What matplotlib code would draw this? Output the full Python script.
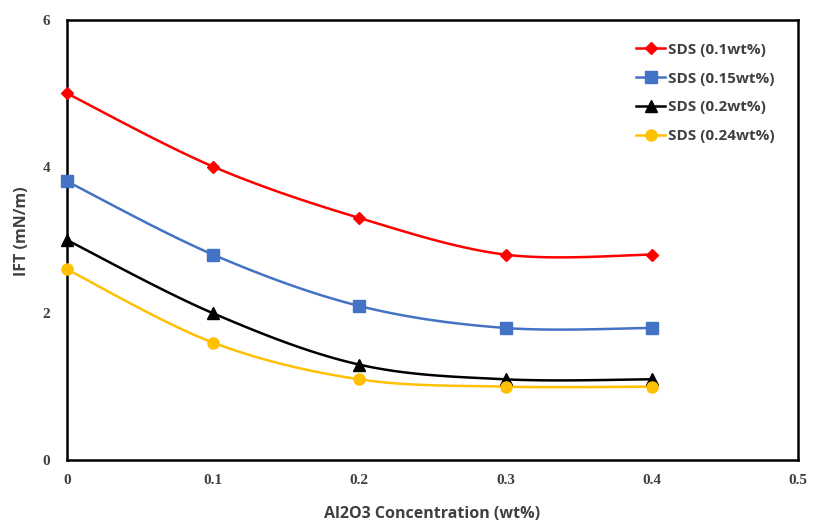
import matplotlib
matplotlib.use("Agg")
import matplotlib.pyplot as plt
import numpy as np

conc = [0.0, 0.1, 0.2, 0.3, 0.4]
ift_01 = [5.0, 4.0, 3.3, 2.8, 2.8]
ift_015 = [3.8, 2.8, 2.1, 1.8, 1.8]
ift_02 = [3.0, 2.0, 1.3, 1.1, 1.1]
ift_024 = [2.6, 1.6, 1.1, 1.0, 1.0]

series = [
    ("SDS (0.1wt%)", ift_01, "#FF0000", "D", 6),
    ("SDS (0.15wt%)", ift_015, "#4472C4", "s", 8),
    ("SDS (0.2wt%)", ift_02, "#000000", "^", 8),
    ("SDS (0.24wt%)", ift_024, "#FFC000", "o", 8),
]


def smooth(x, y, n=30):
    # Catmull-Rom through the points, like Excel's smoothed line
    p = np.column_stack([x, y])
    p = np.vstack([p[0], p, p[-1]])
    out = []
    for i in range(1, len(p) - 2):
        p0, p1, p2, p3 = p[i - 1], p[i], p[i + 1], p[i + 2]
        t = np.linspace(0, 1, n)[:, None]
        c = 0.5 * ((2 * p1) + (-p0 + p2) * t
                   + (2 * p0 - 5 * p1 + 4 * p2 - p3) * t ** 2
                   + (-p0 + 3 * p1 - 3 * p2 + p3) * t ** 3)
        out.append(c)
    c = np.vstack(out)
    return c[:, 0], c[:, 1]


fig = plt.figure(figsize=(8.16, 5.23), dpi=100)
ax = fig.add_axes([0.082, 0.1205, 0.896, 0.8413])

for label, vals, color, mk, ms in series:
    sx, sy = smooth(conc, vals)
    ax.plot(sx, sy, color=color, lw=1.8, zorder=2)
    ax.plot(conc, vals, ls="none", marker=mk, color=color, ms=ms, zorder=3, clip_on=False)
    ax.plot([], [], color=color, lw=1.8, marker=mk, ms=ms, label=label)

ax.set_xlim(0, 0.5)
ax.set_ylim(0, 6)
ax.set_xticks([0, 0.1, 0.2, 0.3, 0.4, 0.5])
ax.set_xticklabels(["0", "0.1", "0.2", "0.3", "0.4", "0.5"])
ax.set_yticks([0, 2, 4, 6])
ax.tick_params(length=0)
ax.tick_params(axis="x", pad=10)
ax.tick_params(axis="y", pad=12)
for t in ax.get_xticklabels() + ax.get_yticklabels():
    t.set_fontfamily("Liberation Serif")
    t.set_fontweight("bold")
    t.set_fontsize(11)
    t.set_color("#404040")
for s in ax.spines.values():
    s.set_linewidth(1.8)
    s.set_color("black")

ax.set_xlabel("Al2O3 Concentration (wt%)", fontsize=11.5, fontweight="bold",
              family="Open Sans", color="#404040", labelpad=14)
ax.set_ylabel("IFT (mN/m)", fontsize=11.5, fontweight="bold",
              family="Open Sans", color="#404040", labelpad=14)
ax.yaxis.set_label_coords(-0.051, 0.52)

leg = ax.legend(loc="upper left", bbox_to_anchor=(0.76, 0.98), frameon=False,
                prop={"family": "Open Sans", "weight": "bold", "size": 11},
                handlelength=1.9, handletextpad=0.15, labelspacing=0.98)
for t in leg.get_texts():
    t.set_color("#404040")

fig.savefig("out.png", dpi=100)
